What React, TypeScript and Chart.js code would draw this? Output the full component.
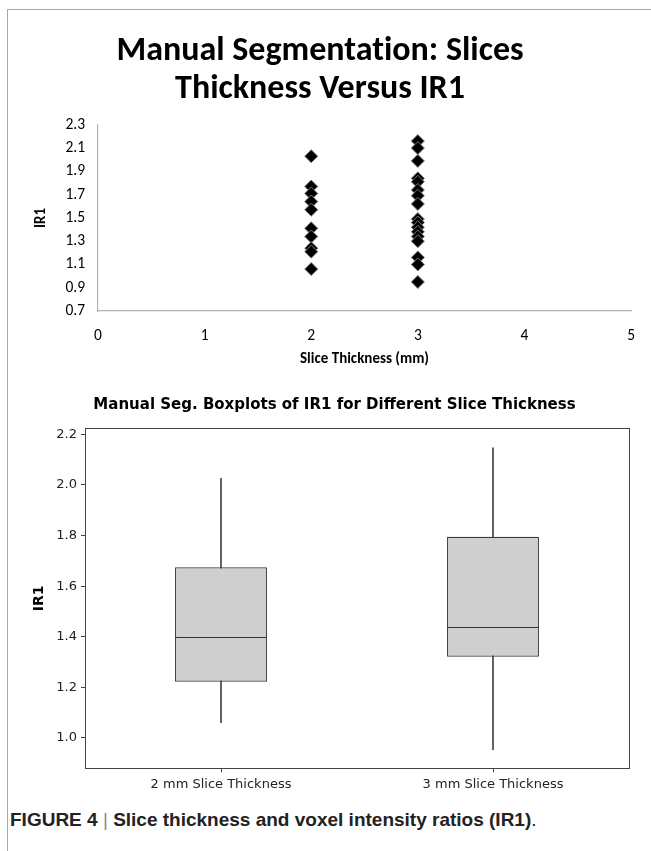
import React, { useEffect, useRef } from "react";
import { Chart, registerables } from "chart.js";

Chart.register(...registerables);

// ---------- Scatter data ----------
const scatterTitle = ["Manual Segmentation: Slices", "Thickness Versus IR1"];
const scatterXTitle = "Slice Thickness (mm)";
const scatterYTitle = "IR1";
const thicknessA = 2;
const thicknessB = 3;
const ir1At2mm = [2.03, 1.77, 1.71, 1.64, 1.57, 1.41, 1.34, 1.24, 1.21, 1.06];
const ir1At3mm = [2.16, 2.1, 1.99, 1.84, 1.81, 1.74, 1.69, 1.62, 1.49, 1.46, 1.42, 1.38, 1.34, 1.3, 1.16, 1.1, 0.95];
const scatterXTicks = [0, 1, 2, 3, 4, 5];
const scatterYTicks = [0.7, 0.9, 1.1, 1.3, 1.5, 1.7, 1.9, 2.1, 2.3];

// ---------- Boxplot data ----------
const boxTitle = "Manual Seg. Boxplots of IR1 for Different Slice Thickness";
const boxCategories = ["2 mm Slice Thickness", "3 mm Slice Thickness"];
const boxMin = [1.06, 0.954];
const boxQ1 = [1.222, 1.321];
const boxMedian = [1.4, 1.438];
const boxQ3 = [1.675, 1.795];
const boxMax = [2.026, 2.147];
const boxYTicks = [1.0, 1.2, 1.4, 1.6, 1.8, 2.0, 2.2];
const boxYRange = [0.88, 2.224];

const caption = "Slice thickness and voxel intensity ratios (IR1)";

const CAL = "Carlito, Lato, 'Open Sans', sans-serif";
const TAH = "'DejaVu Sans', Verdana, sans-serif";

const noLigatures = {
  id: "noLigatures",
  beforeDraw(chart: any) {
    try {
      chart.ctx.textRendering = "optimizeSpeed";
    } catch (e) {}
  },
};

function ScatterChart() {
  const ref = useRef<HTMLCanvasElement | null>(null);
  useEffect(() => {
    const pts = [
      ...ir1At2mm.map((v) => ({ x: thicknessA, y: v })),
      ...ir1At3mm.map((v) => ({ x: thicknessB, y: v })),
    ];
    const chart = new Chart(ref.current!, {
      type: "scatter",
      data: {
        datasets: [
          {
            data: pts,
            pointStyle: "rectRot",
            pointRadius: 6.5,
            backgroundColor: "#000",
            borderColor: "#777",
            borderWidth: 1,
          },
        ],
      },
      options: {
        animation: false,
        responsive: false,
        layout: { padding: { top: 33, left: 8, right: 19, bottom: 0 } },
        plugins: {
          legend: { display: false },
          tooltip: { enabled: false },
          title: {
            display: true,
            text: scatterTitle,
            color: "#000",
            font: { family: CAL, size: 34, weight: "bold", lineHeight: 1.1 },
            padding: { top: 0, bottom: 17 },
          },
        },
        scales: {
          x: {
            type: "linear",
            min: 0,
            max: 5,
            afterBuildTicks: (s: any) => {
              s.ticks = scatterXTicks.map((v) => ({ value: v }));
            },
            afterFit: (s: any) => {
              s.height = 61;
            },
            grid: { display: false, drawTicks: false },
            border: { display: true, color: "#b3b3b3", width: 1.2 },
            ticks: { color: "#000", font: { family: CAL, size: 15.5 }, padding: 16, maxRotation: 0 },
            title: {
              display: true,
              text: scatterXTitle,
              color: "#000",
              font: { family: CAL, size: 15, weight: "bold" },
              padding: { top: 0, bottom: 4 },
            },
          },
          y: {
            type: "linear",
            min: 0.7,
            max: 2.3,
            afterBuildTicks: (s: any) => {
              s.ticks = scatterYTicks.map((v) => ({ value: v }));
            },
            afterFit: (s: any) => {
              s.width = 90;
            },
            grid: { display: false, drawTicks: false },
            border: { display: true, color: "#b3b3b3", width: 1.2 },
            ticks: {
              color: "#000",
              font: { family: CAL, size: 15.5 },
              padding: 13,
              callback: (v: any) => Number(v).toFixed(1),
            },
            title: {
              display: true,
              text: scatterYTitle,
              color: "#000",
              font: { family: CAL, size: 15, weight: "bold" },
              padding: { top: 24, bottom: 0 },
            },
          },
        },
      },
      plugins: [noLigatures],
    });
    return () => chart.destroy();
  }, []);
  return <canvas ref={ref} width={651} height={372} style={{ position: "absolute", left: 0, top: 0, display: "block" }} />;
}

const boxExtras = {
  id: "boxExtras",
  afterDatasetsDraw(chart: any) {
    const ctx = chart.ctx;
    const y = chart.scales.y;
    const meta = chart.getDatasetMeta(1);
    ctx.save();
    ctx.strokeStyle = "#333";
    ctx.lineWidth = 1.2;
    meta.data.forEach((bar: any, i: number) => {
      const py = Math.round(y.getPixelForValue(boxMedian[i])) + 0.5;
      ctx.beginPath();
      ctx.moveTo(bar.x - bar.width / 2, py);
      ctx.lineTo(bar.x + bar.width / 2, py);
      ctx.stroke();
    });
    const a = chart.chartArea;
    ctx.strokeStyle = "#444";
    ctx.lineWidth = 1;
    ctx.strokeRect(Math.round(a.left) + 0.5, Math.round(a.top) + 0.5, Math.round(a.right - a.left), Math.round(a.bottom - a.top));
    ctx.restore();
  },
};

function BoxChart() {
  const ref = useRef<HTMLCanvasElement | null>(null);
  useEffect(() => {
    const chart = new Chart(ref.current!, {
      type: "bar",
      data: {
        labels: boxCategories,
        datasets: [
          {
            label: "whisker",
            data: boxMin.map((m, i) => [m, boxMax[i]]),
            backgroundColor: "#444",
            barThickness: 1,
            grouped: false,
            order: 2,
          } as any,
          {
            label: "box",
            data: boxQ1.map((q, i) => [q, boxQ3[i]]),
            backgroundColor: "#cfcfcf",
            borderColor: "#3a3a3a",
            borderWidth: 1.2,
            borderSkipped: false,
            barPercentage: 0.338,
            categoryPercentage: 1,
            grouped: false,
            order: 1,
          } as any,
        ],
      },
      options: {
        animation: false,
        responsive: false,
        layout: { padding: { top: 21, left: 18, right: 0, bottom: 0 } },
        plugins: {
          legend: { display: false },
          tooltip: { enabled: false },
          title: {
            display: true,
            text: boxTitle,
            color: "#000",
            font: { family: TAH, size: 15, weight: "bold", lineHeight: 1.2 },
            padding: { top: 0, bottom: 14.3 },
          },
        },
        scales: {
          x: {
            type: "category",
            offset: true,
            afterFit: (s: any) => {
              s.height = 36.7;
            },
            grid: { display: true, drawOnChartArea: false, drawTicks: true, tickLength: 4, offset: false, color: "#444" },
            border: { display: false },
            ticks: { color: "#222", font: { family: TAH, size: 13 }, padding: 5, maxRotation: 0 },
          },
          y: {
            type: "linear",
            min: boxYRange[0],
            max: boxYRange[1],
            afterBuildTicks: (s: any) => {
              s.ticks = boxYTicks.map((v) => ({ value: v }));
            },
            afterFit: (s: any) => {
              s.width = 67;
            },
            grid: { display: true, drawOnChartArea: false, drawTicks: true, tickLength: 4, color: "#444" },
            border: { display: false },
            ticks: {
              color: "#222",
              font: { family: TAH, size: 13 },
              padding: 4,
              callback: (v: any) => Number(v).toFixed(1),
            },
            title: {
              display: true,
              text: "IR1",
              color: "#000",
              font: { family: TAH, size: 14, weight: "bold" },
              padding: { top: 13, bottom: 0 },
            },
          },
          yR: {
            type: "linear",
            position: "right",
            display: true,
            afterFit: (s: any) => {
              s.width = 22;
            },
            grid: { display: false },
            border: { display: false },
            ticks: { display: false },
          },
        },
      },
      plugins: [boxExtras],
    });
    return () => chart.destroy();
  }, []);
  return <canvas ref={ref} width={651} height={430} style={{ position: "absolute", left: 0, top: 375, display: "block" }} />;
}

export default function App() {
  return (
    <div style={{ position: "absolute", left: 0, top: 0, width: 651, height: 851, overflow: "hidden", background: "#fff" }}>
      <div
        style={{
          position: "absolute",
          left: 7,
          top: 9,
          right: -10,
          bottom: -10,
          borderTop: "1.5px solid #a8a8a8",
          borderLeft: "1.5px solid #a8a8a8",
        }}
      />
      <ScatterChart />
      <BoxChart />
      <div
        style={{
          position: "absolute",
          left: 10,
          top: 809,
          fontFamily: "'Liberation Sans Narrow', 'Liberation Sans', Arial, sans-serif",
          fontSize: 19,
          fontWeight: "bold",
          color: "#222",
          whiteSpace: "nowrap",
        }}
      >
        FIGURE 4 <span style={{ fontWeight: "normal", color: "#888" }}>|</span> {caption}
        <span style={{ fontWeight: "normal" }}>.</span>
      </div>
    </div>
  );
}
